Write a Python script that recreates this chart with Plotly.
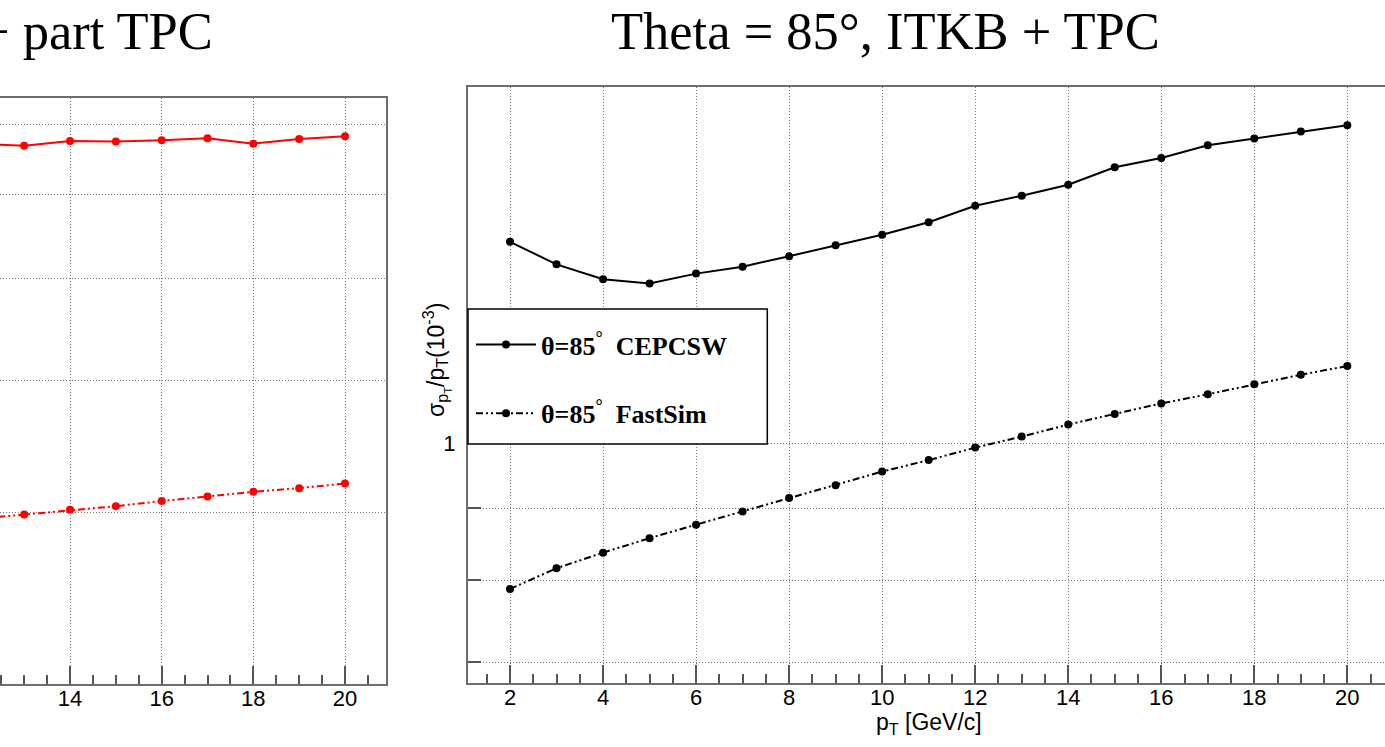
import plotly.graph_objects as go

# ---------------- data ----------------
pt_right = [2, 3, 4, 5, 6, 7, 8, 9, 10, 11, 12, 13, 14, 15, 16, 17, 18, 19, 20]
cepcsw_85 = [1.388, 1.338, 1.306, 1.297, 1.318, 1.333, 1.356, 1.380, 1.404, 1.433,
             1.472, 1.496, 1.523, 1.567, 1.591, 1.624, 1.642, 1.661, 1.678]
fastsim_85 = [0.789, 0.816, 0.837, 0.857, 0.876, 0.895, 0.915, 0.934, 0.955, 0.973,
              0.993, 1.011, 1.031, 1.049, 1.067, 1.083, 1.101, 1.118, 1.134]

pt_left = [12, 13, 14, 15, 16, 17, 18, 19, 20]
cepcsw_left = [6.71, 6.68, 6.75, 6.74, 6.76, 6.79, 6.71, 6.78, 6.82]
fastsim_left = [2.959, 2.987, 3.018, 3.042, 3.076, 3.107, 3.139, 3.164, 3.196]

x_ticks = [2, 4, 6, 8, 10, 12, 14, 16, 18, 20]
y_label_ticks_right = [1]
y_minor_ticks_right = [0.7, 0.8, 0.9]
y_ticks_left = [3, 4, 5, 6, 7]

title_right = "Theta = 85°, ITKB + TPC"
title_left = "+ part TPC"
x_title = "p<sub>T</sub> [GeV/c]"
y_title = "σ<sub>p<sub>T</sub></sub>/p<sub>T</sub>(10<sup>-3</sup>)"
legend_names = ["<b>θ=85<sup>°</sup>\u00a0\u00a0CEPCSW</b>", "<b>θ=85<sup>°</sup>\u00a0\u00a0FastSim</b>"]

# ---------------- geometry ----------------
W, H = 1385, 747
def px(x): return x / W
def py(y): return 1 - y / H

DASHDOT = "7px,3px,2px,3px,2px,3px"
FRAME = "#6e6e6e"
GRID = "#777777"
GRIDDASH = "1px,2px"
TICKC = "#555555"
SANS = "Liberation Sans, Arial, sans-serif"
SERIF = "Liberation Serif, Times New Roman, serif"
TICKFONT = dict(family=SANS, size=22, color="black")

fig = go.Figure()

# right panel
fig.add_trace(go.Scatter(x=pt_right, y=cepcsw_85, mode="lines+markers", name=legend_names[0],
                         legendgroup="a", line=dict(color="black", width=2),
                         marker=dict(color="black", size=8), xaxis="x", yaxis="y"))
fig.add_trace(go.Scatter(x=pt_right, y=fastsim_85, mode="lines+markers", name=legend_names[1],
                         legendgroup="b", line=dict(color="black", width=2, dash=DASHDOT),
                         marker=dict(color="black", size=8), xaxis="x", yaxis="y"))
# left panel (cropped)
fig.add_trace(go.Scatter(x=pt_left, y=cepcsw_left, mode="lines+markers", showlegend=False,
                         line=dict(color="red", width=2), marker=dict(color="red", size=8),
                         xaxis="x2", yaxis="y2"))
fig.add_trace(go.Scatter(x=pt_left, y=fastsim_left, mode="lines+markers", showlegend=False,
                         line=dict(color="red", width=2, dash=DASHDOT), marker=dict(color="red", size=8),
                         xaxis="x2", yaxis="y2"))

common_x = dict(showline=True, mirror=True, linecolor=FRAME, linewidth=2,
                ticks="inside", ticklen=18, tickwidth=1.5, tickcolor=TICKC,
                tickvals=x_ticks, tickfont=TICKFONT, showgrid=True, gridcolor=GRID,
                griddash=GRIDDASH, gridwidth=1, zeroline=False,
                minor=dict(ticks="inside", ticklen=9, tickwidth=1.5, tickcolor=TICKC,
                           tickmode="linear", tick0=0, dtick=0.5, showgrid=False),
                ticklabelstandoff=-6)

fig.update_layout(
    width=W, height=H, autosize=False,
    margin=dict(l=0, r=0, t=0, b=0),
    paper_bgcolor="white", plot_bgcolor="white",
    xaxis=dict(domain=[px(468), 1], range=[1.097, 20.81], anchor="y", **common_x),
    yaxis=dict(type="log", domain=[py(683), py(87)], range=[-0.1694, 0.2518], anchor="x",
               showline=True, mirror=False, linecolor=FRAME, linewidth=2,
               ticks="inside", ticklen=13, tickwidth=1.5, tickcolor=TICKC,
               tickvals=y_label_ticks_right, tickfont=TICKFONT,
               showgrid=True, gridcolor=GRID, griddash=GRIDDASH, gridwidth=1, zeroline=False,
               minor=dict(tickmode="array", tickvals=y_minor_ticks_right, ticks="inside",
                          ticklen=13, tickwidth=1.5, tickcolor=TICKC, showgrid=True,
                          gridcolor=GRID, griddash=GRIDDASH, gridwidth=1),
               ticklabelstandoff=6),
    xaxis2=dict(domain=[0, px(385.7)], range=[12.472, 20.888], anchor="y2", **common_x),
    yaxis2=dict(type="log", domain=[py(684), py(98)], range=[0.3146, 0.8700], anchor="x2",
                side="right", showline=True, linecolor=FRAME, linewidth=2,
                ticks="", showticklabels=False, tickvals=y_ticks_left,
                showgrid=True, gridcolor=GRID, griddash=GRIDDASH, gridwidth=1, zeroline=False),
    legend=dict(x=px(471), y=py(321), xanchor="left", yanchor="top",
                bgcolor="rgba(0,0,0,0)", borderwidth=0, tracegroupgap=32, itemwidth=60,
                font=dict(family=SERIF, size=26, color="black")),
    shapes=[dict(type="rect", xref="paper", yref="paper", x0=px(468), x1=px(767.3),
                 y0=py(444), y1=py(309), fillcolor="white",
                 line=dict(color="black", width=1.5), layer="above")],
    annotations=[
        dict(text=title_right, x=px(885.5), y=py(31), xref="paper", yref="paper",
             xanchor="center", yanchor="middle", showarrow=False,
             font=dict(family=SERIF, size=52.5, color="black")),
        dict(text=title_left, x=px(215), y=py(31), xref="paper", yref="paper",
             xanchor="right", yanchor="middle", showarrow=False,
             font=dict(family=SERIF, size=52.5, color="black")),
        dict(text=y_title, x=px(436), y=py(360), xref="paper", yref="paper", textangle=-90,
             xanchor="center", yanchor="middle", showarrow=False,
             font=dict(family=SANS, size=23, color="black")),
        dict(text=x_title, x=px(929), y=py(723), xref="paper", yref="paper",
             xanchor="center", yanchor="middle", showarrow=False,
             font=dict(family=SANS, size=23, color="black")),
    ],
)

fig.write_html("out.html", config={"displayModeBar": False},
               post_script="document.body.style.margin='0';document.body.style.overflow='hidden';")
